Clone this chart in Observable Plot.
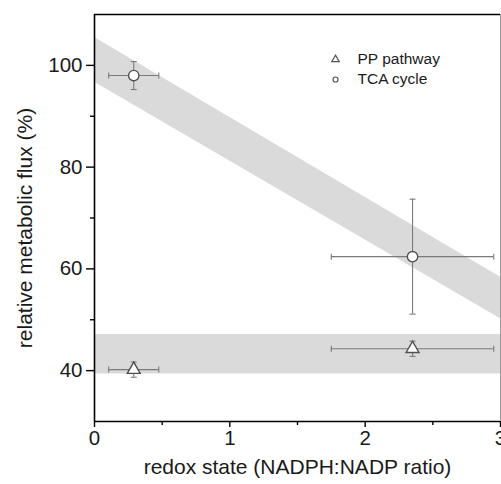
<!DOCTYPE html>
<html>
<head>
<meta charset="utf-8">
<script src="https://cdn.jsdelivr.net/npm/d3@7"></script>
<script src="https://cdn.jsdelivr.net/npm/@observablehq/plot@0.6"></script>
<style>
  html, body { margin: 0; padding: 0; background: #fff; }
  #chart { width: 501px; height: 484px; overflow: hidden; }
</style>
</head>
<body>
<div id="chart"></div>
<script>
// ---- data ----
const series = ["PP pathway", "TCA cycle"];
const ppX = [0.29, 2.35];
const ppY = [40.2, 44.3];
const ppXerr = [0.185, 0.6];
const ppYerr = [1.5, 1.5];
const tcaX = [0.29, 2.35];
const tcaY = [98.0, 62.4];
const tcaXerr = [0.185, 0.6];
const tcaYerr = [2.75, 11.3];

// shaded bands (x at both ends, lower and upper edge)
const bandX = [0, 3];
const tcaBandLow = [96.7, 50.2];
const tcaBandHigh = [105.5, 58.35];
const ppBandLow = [39.35, 39.35];
const ppBandHigh = [47.1, 47.1];

// axis ticks
const xTicks = [0, 1, 2, 3];
const xMinor = [0.5, 1.5, 2.5];
const yTicks = [40, 60, 80, 100];
const yMinor = [50, 70, 90];
const xDomain = [0, 3];
const yDomain = [30, 110];
const xTitle = "redox state (NADPH:NADP ratio)";
const yTitle = "relative metabolic flux (%)";

// ---- build tables ----
const ppRows = ppX.map((x, i) => ({series: series[0], x, y: ppY[i], xerr: ppXerr[i], yerr: ppYerr[i]}));
const tcaRows = tcaX.map((x, i) => ({series: series[1], x, y: tcaY[i], xerr: tcaXerr[i], yerr: tcaYerr[i]}));
const rows = [...ppRows, ...tcaRows];
const tcaBand = bandX.map((x, i) => ({x, lo: tcaBandLow[i], hi: tcaBandHigh[i]}));
const ppBand = bandX.map((x, i) => ({x, lo: ppBandLow[i], hi: ppBandHigh[i]}));

// cap symbols for error bars
const capH = {draw(ctx, size) { const w = Math.sqrt(size) / 2; ctx.moveTo(-w, 0); ctx.lineTo(w, 0); }};
const capV = {draw(ctx, size) { const w = Math.sqrt(size) / 2; ctx.moveTo(0, -w); ctx.lineTo(0, w); }};
const capSize = 3.4;

const errColor = "#7a7a7a";
const markStroke = "#505050";
const bandFill = "#dadada";
const textColor = "#1a1a1a";
const fontFamily = "'Liberation Sans', Arial, sans-serif";

const legendTop = 45, legendStep = 20, legendSymX = 241, legendTextX = 263;

const plot = Plot.plot({
  width: 501,
  height: 484,
  marginLeft: 94,
  marginRight: 1,
  marginTop: 14,
  marginBottom: 63,
  style: {fontFamily, fontSize: "20px", color: textColor, background: "white", overflow: "visible"},
  x: {domain: xDomain},
  y: {domain: yDomain},
  marks: [
    Plot.areaY(tcaBand, {x: "x", y1: "lo", y2: "hi", fill: bandFill}),
    Plot.areaY(ppBand, {x: "x", y1: "lo", y2: "hi", fill: bandFill}),

    // frame
    Plot.ruleY([yDomain[1]], {stroke: "black", strokeWidth: 1.6}),
    Plot.ruleX([xDomain[1]], {stroke: "#9a9a9a", strokeWidth: 1}),
    Plot.ruleX([xDomain[0]], {stroke: "black", strokeWidth: 1.6}),
    Plot.ruleY([yDomain[0]], {stroke: "black", strokeWidth: 1.6}),

    // axes
    Plot.axisX({ticks: xTicks, tickSize: 6, tickPadding: 3, strokeWidth: 1.4, stroke: "black", label: null, tickFormat: d => String(d), fill: textColor, fontSize: 20.5, fontFamily}),
    Plot.axisX({ticks: xMinor, tickSize: 4, strokeWidth: 1.4, stroke: "black", label: null, tickFormat: () => ""}),
    Plot.axisY({ticks: yTicks, tickSize: 8, tickPadding: 4, strokeWidth: 1.4, stroke: "black", label: null, tickFormat: d => String(d), fill: textColor, fontSize: 20.5, fontFamily}),
    Plot.axisY({ticks: yMinor, tickSize: 4, strokeWidth: 1.4, stroke: "black", label: null, tickFormat: () => ""}),

    // axis titles
    Plot.text([xTitle], {frameAnchor: "bottom", textAnchor: "middle", lineAnchor: "middle", dy: 46, fontSize: 21, fill: textColor}),
    Plot.text([yTitle], {frameAnchor: "left", textAnchor: "middle", lineAnchor: "middle", dx: -69, dy: 10, rotate: -90, fontSize: 21, fill: textColor}),

    // error bars
    Plot.ruleX(rows, {x: "x", y1: d => d.y - d.yerr, y2: d => d.y + d.yerr, stroke: errColor, strokeWidth: 1.1}),
    Plot.ruleY(rows, {y: "y", x1: d => d.x - d.xerr, x2: d => d.x + d.xerr, stroke: errColor, strokeWidth: 1.1}),
    Plot.dot(rows, {x: "x", y: d => d.y - d.yerr, symbol: capH, r: capSize, stroke: errColor, strokeWidth: 1.1, fill: "none"}),
    Plot.dot(rows, {x: "x", y: d => d.y + d.yerr, symbol: capH, r: capSize, stroke: errColor, strokeWidth: 1.1, fill: "none"}),
    Plot.dot(rows, {x: d => d.x - d.xerr, y: "y", symbol: capV, r: capSize, stroke: errColor, strokeWidth: 1.1, fill: "none"}),
    Plot.dot(rows, {x: d => d.x + d.xerr, y: "y", symbol: capV, r: capSize, stroke: errColor, strokeWidth: 1.1, fill: "none"}),

    // markers
    Plot.dot(ppRows, {x: "x", y: "y", symbol: "triangle", r: 4.8, fill: "white", stroke: markStroke, strokeWidth: 1.4}),
    Plot.dot(tcaRows, {x: "x", y: "y", symbol: "circle", r: 5.2, fill: "white", stroke: markStroke, strokeWidth: 1.4}),

    // legend
    Plot.dot([series[0]], {frameAnchor: "top-left", dx: legendSymX, dy: legendTop, symbol: "triangle", r: 2.8, fill: "white", stroke: "#555", strokeWidth: 1.2}),
    Plot.dot([series[1]], {frameAnchor: "top-left", dx: legendSymX, dy: legendTop + legendStep, symbol: "circle", r: 2.5, fill: "white", stroke: "#555", strokeWidth: 1.2}),
    Plot.text([series[0]], {frameAnchor: "top-left", dx: legendTextX, dy: legendTop, textAnchor: "start", lineAnchor: "middle", fontSize: 15.5, fill: textColor}),
    Plot.text([series[1]], {frameAnchor: "top-left", dx: legendTextX, dy: legendTop + legendStep, textAnchor: "start", lineAnchor: "middle", fontSize: 15.5, fill: textColor})
  ]
});
document.getElementById("chart").appendChild(plot);
</script>
</body>
</html>
